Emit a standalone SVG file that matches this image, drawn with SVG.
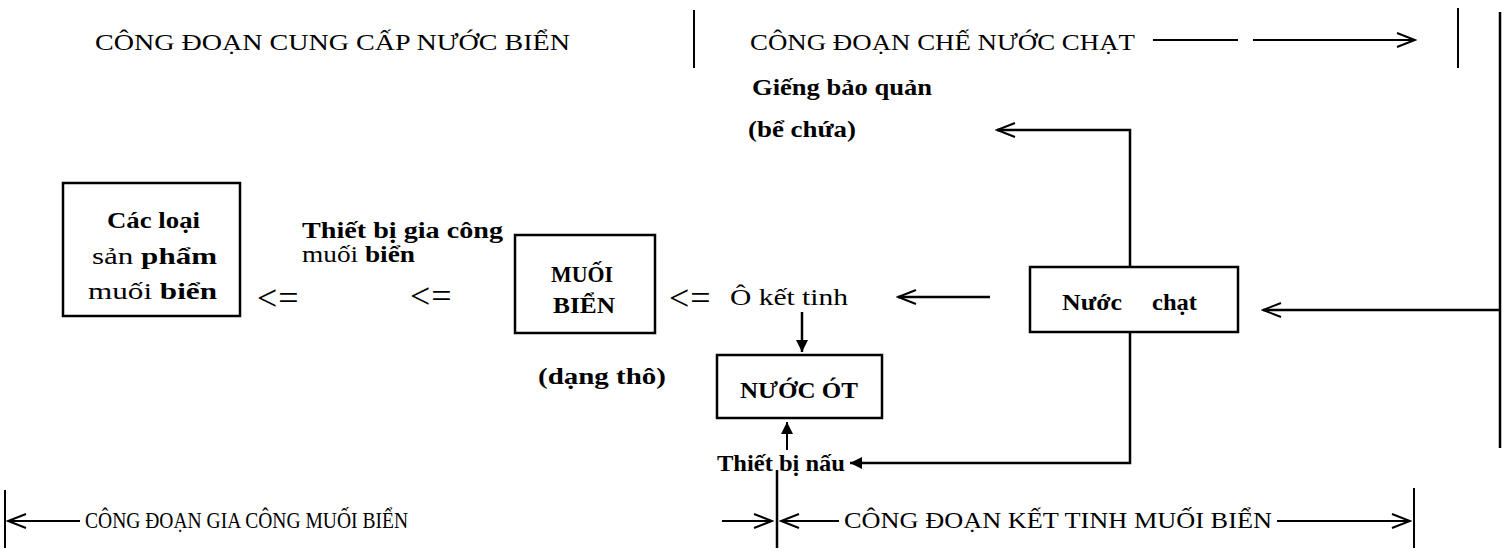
<svg xmlns="http://www.w3.org/2000/svg" width="1507" height="557" viewBox="0 0 1507 557">
<defs>
<style>
.t{font-family:"Liberation Serif","DejaVu Serif",serif;fill:#000}
.title{font-size:23px}
.lab{font-size:23px;font-weight:bold}
.reg{font-size:23px}
.sym{font-size:36px;letter-spacing:1px}
.ln{stroke:#000;stroke-width:2.5;fill:none}
.thin{stroke:#000;stroke-width:2;fill:none}
.bx{stroke:#000;stroke-width:2.5;fill:none}
</style>
<marker id="chev" markerUnits="userSpaceOnUse" markerWidth="22" markerHeight="22" viewBox="0 0 22 22" refX="20" refY="11" orient="auto">
<path d="M 2 4 L 20 11 L 2 18" fill="none" stroke="#000" stroke-width="2"/>
</marker>
<marker id="tri" markerUnits="userSpaceOnUse" markerWidth="14" markerHeight="14" viewBox="0 0 14 14" refX="13" refY="7" orient="auto">
<path d="M 1 1 L 13 7 L 1 13 Z" fill="#000"/>
</marker>
</defs>
<rect width="1507" height="557" fill="#fff"/>

<g id="stage-titles">
<text class="t title" x="95" y="50" textLength="475" lengthAdjust="spacingAndGlyphs">CÔNG ĐOẠN CUNG CẤP NƯỚC BIỂN</text>
<text class="t title" x="750" y="50" textLength="385" lengthAdjust="spacingAndGlyphs">CÔNG ĐOẠN CHẾ NƯỚC CHẠT</text>
<text class="t title" x="85" y="528" textLength="323" lengthAdjust="spacingAndGlyphs">CÔNG ĐOẠN GIA CÔNG MUỐI BIỂN</text>
<text class="t title" x="844" y="528" textLength="428" lengthAdjust="spacingAndGlyphs">CÔNG ĐOẠN KẾT TINH MUỐI BIỂN</text>
</g>

<g id="node-products">
<rect class="bx" x="63" y="183" width="177" height="133"/>
<text class="t lab" x="107" y="228" textLength="93" lengthAdjust="spacingAndGlyphs">Các loại</text>
<text class="t reg" x="92" y="264" textLength="125" lengthAdjust="spacingAndGlyphs">sản <tspan font-weight="bold">phẩm</tspan></text>
<text class="t reg" x="88" y="299" textLength="129" lengthAdjust="spacingAndGlyphs">muối <tspan font-weight="bold">biển</tspan></text>
</g>

<g id="label-thiet-bi-gia-cong">
<text class="t lab" x="302" y="238" textLength="201" lengthAdjust="spacingAndGlyphs">Thiết bị gia công</text>
<text class="t reg" x="302" y="262" textLength="113" lengthAdjust="spacingAndGlyphs">muối <tspan font-weight="bold">biển</tspan></text>
</g>

<g id="node-muoi-bien">
<rect class="bx" x="515" y="235" width="140" height="98"/>
<text class="t lab" x="551" y="282" textLength="62" lengthAdjust="spacingAndGlyphs" font-size="21">MUỐI</text>
<text class="t lab" x="553" y="313" textLength="62" lengthAdjust="spacingAndGlyphs" font-size="21">BIỂN</text>
</g>

<g id="label-dang-tho">
<text class="t lab" x="538" y="384" textLength="128" lengthAdjust="spacingAndGlyphs">(dạng thô)</text>
</g>

<g id="label-o-ket-tinh">
<text class="t reg" x="730" y="305" textLength="118" lengthAdjust="spacingAndGlyphs">Ô kết tinh</text>
</g>

<g id="node-nuoc-ot">
<rect class="bx" x="717" y="355" width="165" height="63"/>
<text class="t lab" x="740" y="398" textLength="118" lengthAdjust="spacingAndGlyphs" font-size="21">NƯỚC ÓT</text>
</g>

<g id="label-thiet-bi-nau">
<text class="t lab" x="717" y="471" textLength="128" lengthAdjust="spacingAndGlyphs">Thiết bị nấu</text>
</g>

<g id="node-nuoc-chat">
<rect class="bx" x="1030" y="267" width="208" height="65"/>
<text class="t lab" x="1062" y="310" textLength="60" lengthAdjust="spacingAndGlyphs">Nước</text>
<text class="t lab" x="1152" y="310" textLength="45" lengthAdjust="spacingAndGlyphs">chạt</text>
</g>

<g id="label-gieng">
<text class="t lab" x="752" y="95" textLength="180" lengthAdjust="spacingAndGlyphs">Giếng bảo quản</text>
<text class="t lab" x="748" y="137" textLength="108" lengthAdjust="spacingAndGlyphs">(bể chứa)</text>
</g>

<g id="connectors">
<line class="thin" x1="694" y1="10" x2="694" y2="68"/>
<line class="thin" x1="1458" y1="8" x2="1458" y2="68"/>
<line class="ln" x1="1500" y1="12" x2="1500" y2="448"/>
<line class="thin" x1="5" y1="490" x2="5" y2="548"/>
<line class="ln" x1="777" y1="470" x2="777" y2="548"/>
<line class="thin" x1="1414" y1="488" x2="1414" y2="548"/>
<line class="thin" x1="1153" y1="40" x2="1238" y2="40"/>
<path class="thin" d="M 1253 40 L 1415 40" marker-end="url(#chev)"/>
<path class="thin" d="M 80 521 L 8 521" marker-end="url(#chev)"/>
<path class="thin" d="M 722 521 L 772 521" marker-end="url(#chev)"/>
<path class="thin" d="M 839 521 L 781 521" marker-end="url(#chev)"/>
<path class="thin" d="M 1277 521 L 1410 521" marker-end="url(#chev)"/>
<path class="ln" d="M 1500 310 L 1263 310" marker-end="url(#chev)"/>
<path class="ln" d="M 1130 267 L 1130 130 L 997 130" marker-end="url(#chev)"/>
<path class="ln" d="M 990 297 L 898 297" marker-end="url(#chev)"/>
<path class="ln" d="M 1130 332 L 1130 463 L 850 463" marker-end="url(#tri)"/>
<path class="ln" d="M 802 312 L 802 352" marker-end="url(#tri)"/>
<path class="thin" d="M 787 450 L 787 422" marker-end="url(#tri)"/>
<text class="t sym" x="669" y="310">&lt;=</text>
<text class="t sym" x="410" y="308">&lt;=</text>
<text class="t sym" x="257" y="310">&lt;=</text>
</g>
</svg>
